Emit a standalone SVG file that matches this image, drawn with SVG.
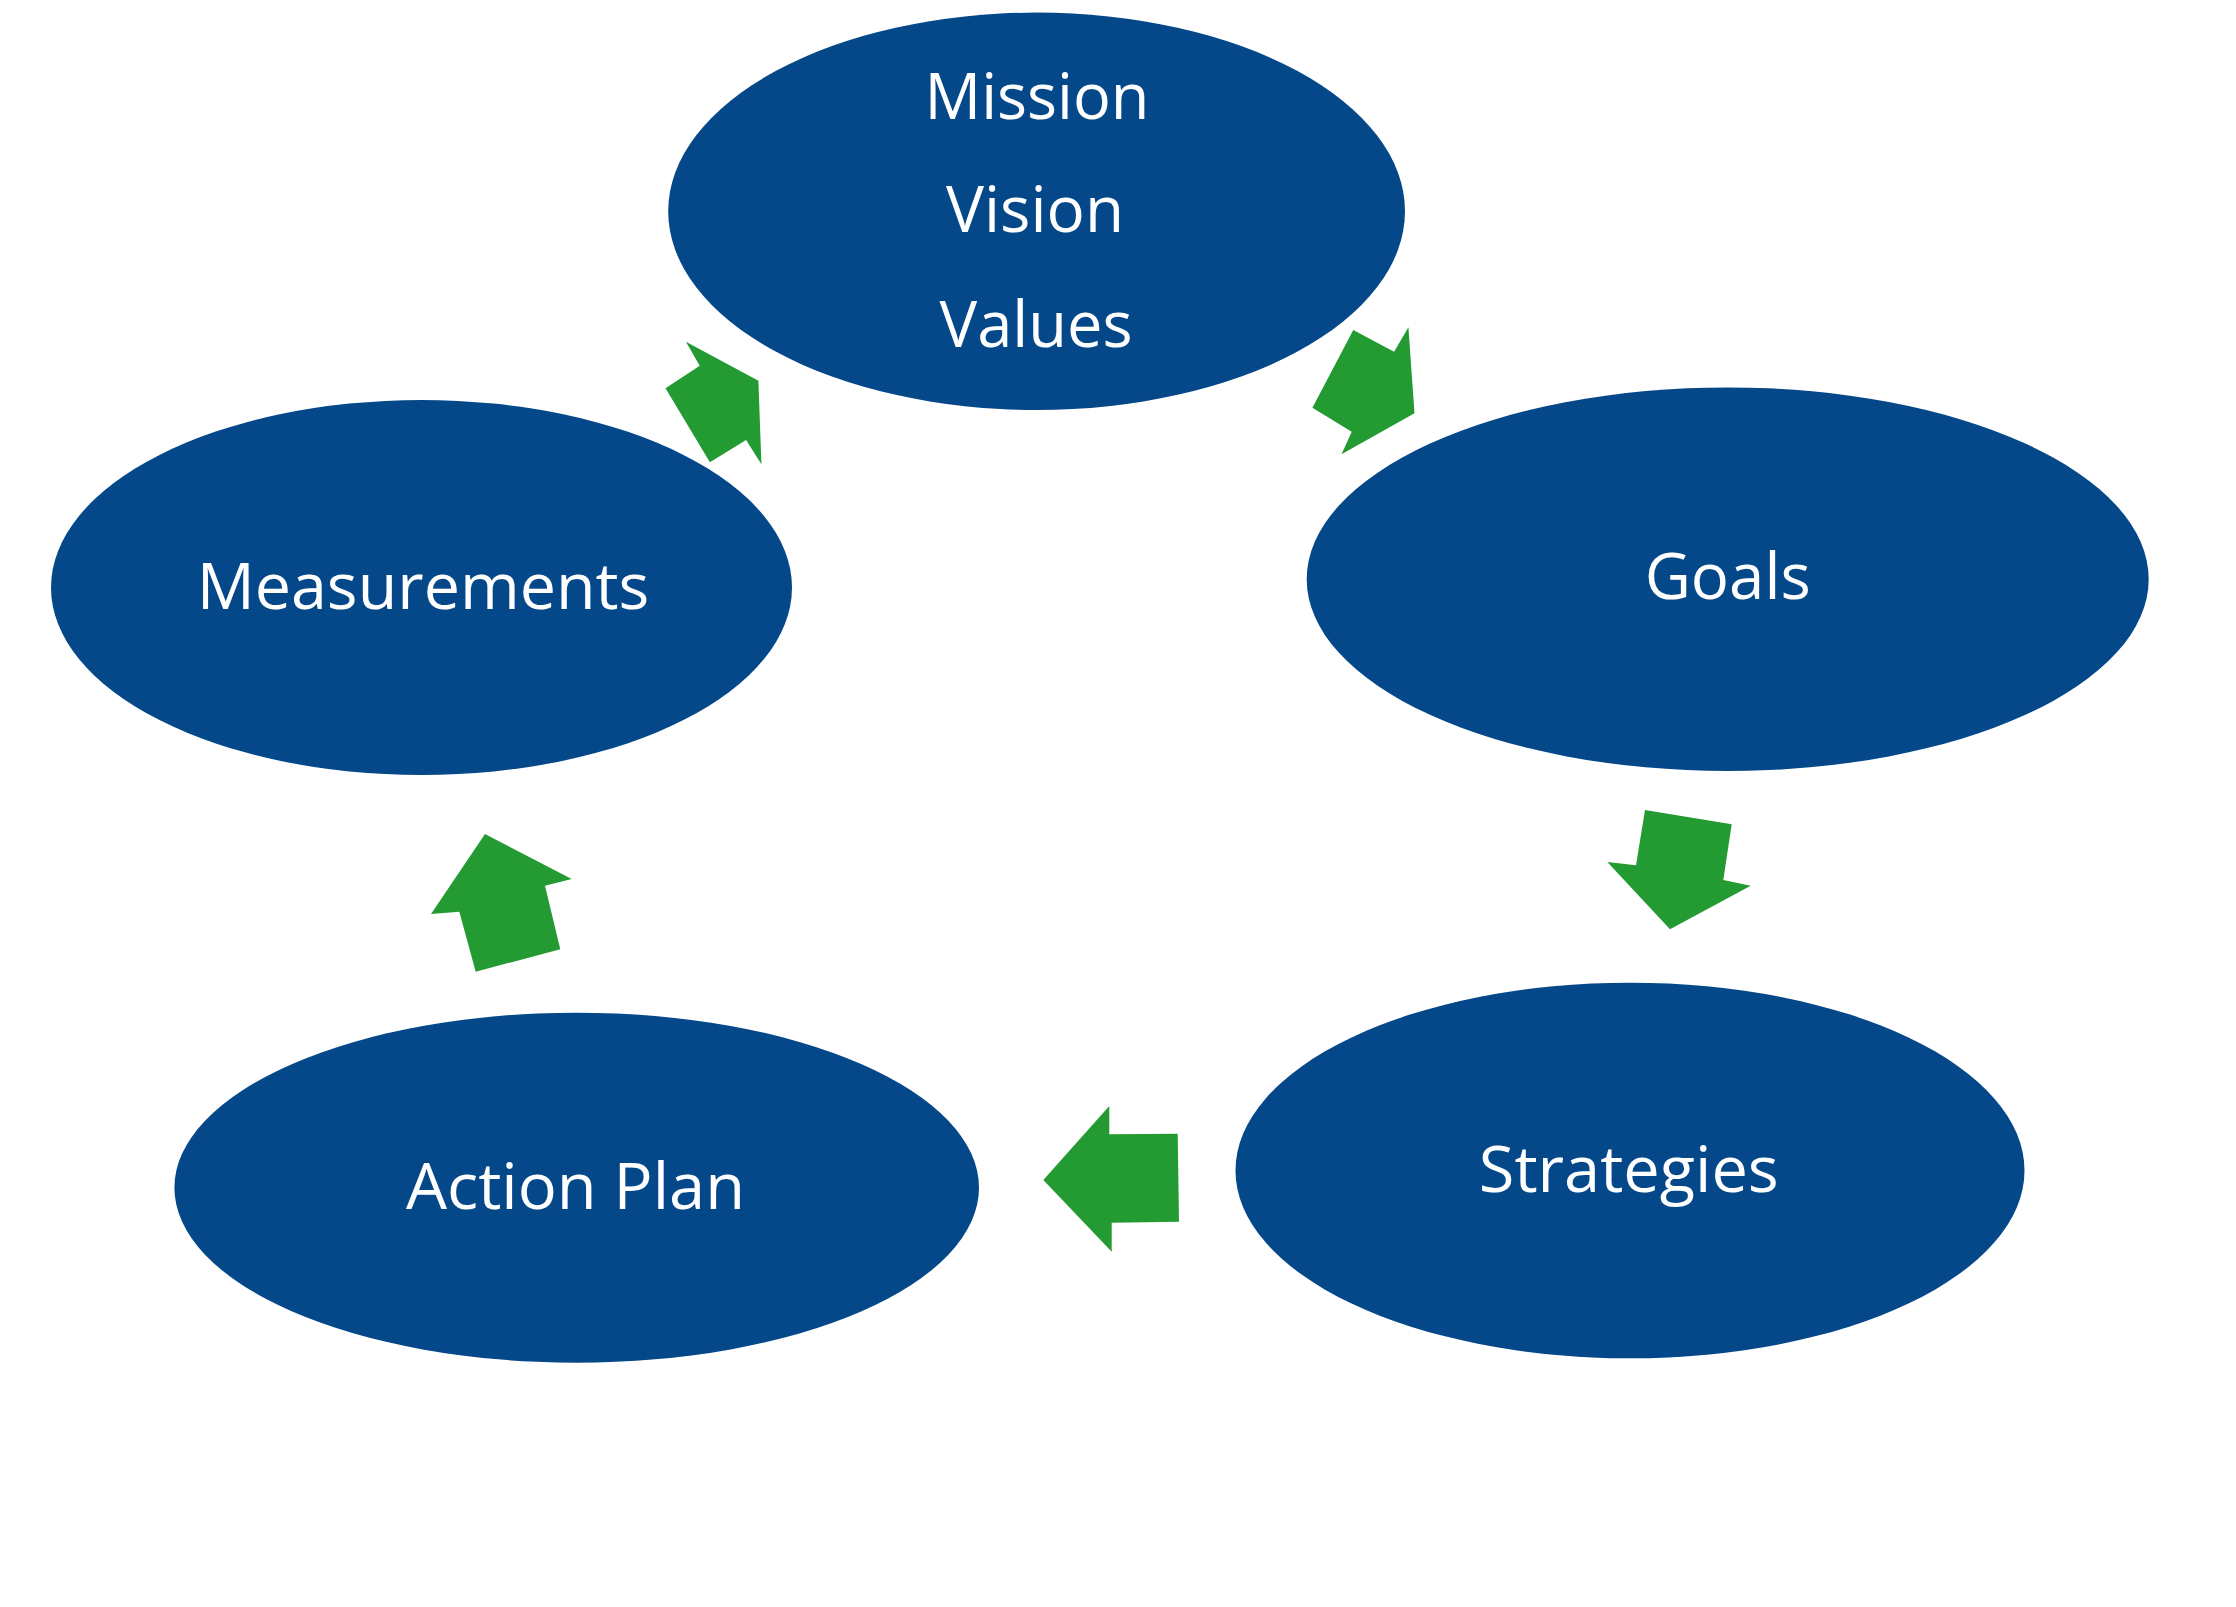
<svg xmlns="http://www.w3.org/2000/svg" width="2236" height="1607" viewBox="0 0 2236 1607">
<style>
.node{fill:#05488A;}
.lbl{fill:#FFFFFF;font-family:"Open Sans","Noto Sans","Liberation Sans",sans-serif;font-size:64px;text-anchor:middle;font-variant-ligatures:none;}
.arr{fill:#239B32;}
</style>
<rect x="0" y="0" width="2236" height="1607" fill="#FFFFFF"/>
<g id="connectors">
<polygon class="arr" points="1353.3,330 1394.1,351.7 1408.4,327.3 1414.5,413.3 1341.5,454.3 1351.7,431.7 1312.4,407.7"/>
<polygon class="arr" points="1645,810 1731.7,824.3 1723.3,880 1750.7,885.7 1670,929.3 1607.3,862 1636,865.3"/>
<polygon class="arr" points="1109.3,1106 1109.3,1134.3 1177.7,1133.7 1179,1221.7 1111.7,1222.7 1111.7,1251.7 1043.3,1180"/>
<polygon class="arr" points="485,834 571.7,879 545,885.7 560.3,949.3 475.7,971.7 459.3,911.7 431,914"/>
<polygon class="arr" points="685.9,341.7 758.4,380.7 761.4,464.3 746.1,440 709.9,462.3 665.5,388.3 699.7,365.7"/>
</g>
<g id="node-mission">
<ellipse class="node" cx="1036.6" cy="211.3" rx="368.4" ry="198.7"/>
<text class="lbl" x="1037" y="119" textLength="225" lengthAdjust="spacingAndGlyphs">Mission</text>
<text class="lbl" x="1035" y="232.3" textLength="178" lengthAdjust="spacingAndGlyphs">Vision</text>
<text class="lbl" x="1036" y="346.7" textLength="193" lengthAdjust="spacingAndGlyphs">Values</text>
</g>
<g id="node-goals">
<ellipse class="node" cx="1727.7" cy="579.2" rx="421" ry="191.8"/>
<text class="lbl" x="1727.7" y="599" textLength="166" lengthAdjust="spacingAndGlyphs">Goals</text>
</g>
<g id="node-strategies">
<ellipse class="node" cx="1630" cy="1170.5" rx="394.5" ry="187.8"/>
<text class="lbl" x="1628.8" y="1192.3" textLength="300" lengthAdjust="spacingAndGlyphs">Strategies</text>
</g>
<g id="node-action-plan">
<ellipse class="node" cx="576.7" cy="1187.7" rx="402.3" ry="175"/>
<text class="lbl" x="575.5" y="1208.7" textLength="339" lengthAdjust="spacingAndGlyphs">Action Plan</text>
</g>
<g id="node-measurements">
<ellipse class="node" cx="421.5" cy="587.5" rx="370.5" ry="187.5"/>
<text class="lbl" x="423" y="609" textLength="452.7" lengthAdjust="spacingAndGlyphs">Measurements</text>
</g>
</svg>
